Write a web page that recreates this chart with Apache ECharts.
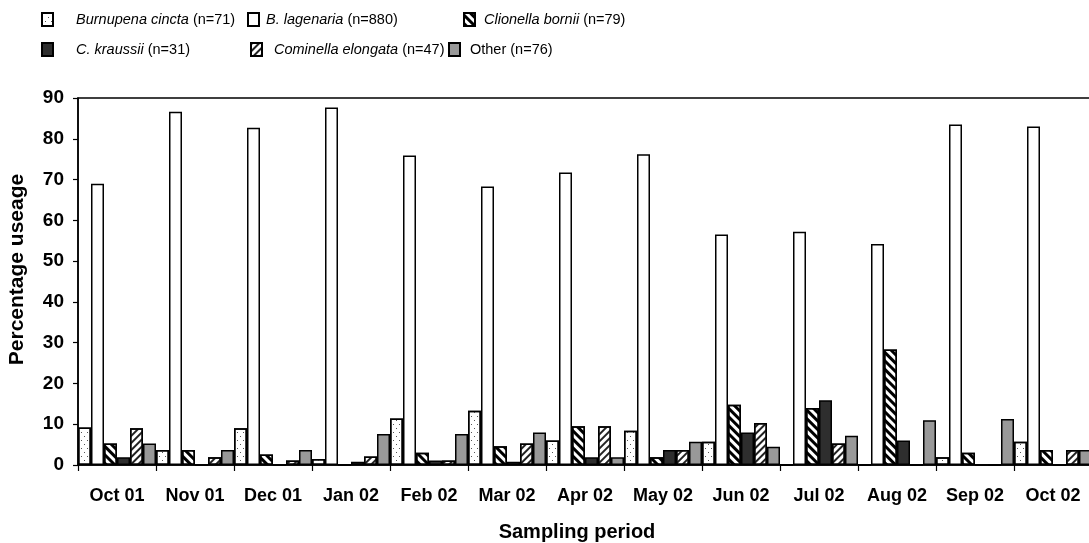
<!DOCTYPE html>
<html>
<head>
<meta charset="utf-8">
<script src="https://cdn.jsdelivr.net/npm/echarts@6/dist/echarts.min.js"></script>
<style>
html,body{margin:0;padding:0;background:#fff;}
#chart{width:1089px;height:543px;}
</style>
</head>
<body>
<div id="chart"></div>
<script>
var categories = ['Oct 01','Nov 01','Dec 01','Jan 02','Feb 02','Mar 02','Apr 02','May 02','Jun 02','Jul 02','Aug 02','Sep 02','Oct 02'];
var yTicks = [0,10,20,30,40,50,60,70,80,90];
var burnupena = [9.2, 3.7, 9.0, 1.5, 11.4, 13.3, 6.0, 8.4, 5.7, 0, 0, 1.9, 5.7];
var lagenaria = [69.0, 86.6, 82.7, 87.7, 75.9, 68.3, 71.7, 76.2, 56.5, 57.2, 54.2, 83.5, 83.0];
var clionella = [5.3, 3.7, 2.6, 0, 3.0, 4.6, 9.5, 1.9, 14.8, 14.0, 28.3, 3.0, 3.7];
var kraussii = [1.9, 0, 0, 0.8, 1.1, 0.8, 1.9, 3.7, 8.0, 15.9, 6.0, 0, 0];
var cominella = [9.0, 1.9, 1.1, 2.1, 1.1, 5.3, 9.5, 3.7, 10.3, 5.3, 0, 0, 3.7];
var other = [5.3, 3.7, 3.7, 7.6, 7.6, 8.0, 1.9, 5.7, 4.5, 7.2, 11.0, 11.3, 3.7];

var names = ['Burnupena cincta','B. lagenaria','Clionella bornii','C. kraussii','Cominella elongata','Other'];
var counts = ['(n=71)','(n=880)','(n=79)','(n=31)','(n=47)','(n=76)'];
var values = [burnupena, lagenaria, clionella, kraussii, cominella, other];

var FONT = "'Liberation Sans', Arial, sans-serif";
var styles = [
  {color:'#fff', decal:{symbol:'rect', symbolSize:1, color:'#555', dashArrayX:[[1,5],[0,3,1,2]], dashArrayY:[1,3], rotation:0}},
  {color:'#fff'},
  {color:'#fff', decal:{symbol:'rect', symbolSize:1, color:'#000', dashArrayX:[[1,0]], dashArrayY:[2.4,2.2], rotation:Math.PI/4}},
  {color:'#2e2e2e'},
  {color:'#fff', decal:{symbol:'rect', symbolSize:1, color:'#222', dashArrayX:[[1,0]], dashArrayY:[1.6,2.6], rotation:-Math.PI/4}},
  {color:'#999'}
];

var series = names.map(function(n, i){
  var st = styles[i];
  var itemStyle = {color: st.color, borderColor:'#000', borderWidth:1.5};
  if (st.decal) itemStyle.decal = st.decal;
  return {
    name: n, type:'bar', data: values[i],
    barGap: '0%', barCategoryGap: '0%',
    itemStyle: itemStyle,
    emphasis: {disabled: true},
    animation: false
  };
});

var LFS = 14.5;
var legendPos = [
  {left:41, top:12, pad:18},
  {left:247, top:12, pad:2},
  {left:463, top:12, pad:4},
  {left:41, top:42, pad:18},
  {left:250, top:42, pad:7},
  {left:448, top:42, pad:5}
];
var legends = names.map(function(n, i){
  var p = legendPos[i];
  var italic = (i !== 5);
  return {
    data:[n], left:p.left, top:p.top, padding:0, itemWidth:11, itemHeight:13, icon:'rect',
    selectedMode:false,
    formatter: function(name){
      return italic ? '{sp|}{it|' + name + '} {nm|' + counts[i] + '}' : '{sp|}{nm|' + name + ' ' + counts[i] + '}';
    },
    textStyle:{
      fontFamily:FONT, fontSize:LFS, color:'#000',
      rich:{
        sp:{width:p.pad},
        it:{fontStyle:'italic', fontFamily:FONT, fontSize:LFS, color:'#000'},
        nm:{fontFamily:FONT, fontSize:LFS, color:'#000'}
      }
    }
  };
});

var chart = echarts.init(document.getElementById('chart'), null, {renderer:'canvas'});
chart.setOption({
  animation:false,
  legend: legends,
  grid:{left:78, top:98, width:1014, height:367, outerBoundsMode:'none', containLabel:false,
        show:true, borderColor:'#000', borderWidth:1.5, backgroundColor:'transparent'},
  xAxis:{
    type:'category', data:categories,
    axisLine:{lineStyle:{color:'#000', width:1.5}},
    axisTick:{show:true, length:6, lineStyle:{color:'#000', width:1.2}},
    axisLabel:{interval:0, fontFamily:FONT, fontWeight:'bold', fontSize:18, color:'#000', margin:22},
    name:'Sampling period', nameLocation:'middle', nameGap:57,
    nameTextStyle:{fontFamily:FONT, fontWeight:'bold', fontSize:20, color:'#000', padding:[0,16,0,0]}
  },
  yAxis:{
    type:'value', min:yTicks[0], max:yTicks[yTicks.length-1], interval:10,
    axisLine:{show:true, lineStyle:{color:'#000', width:1.5}},
    axisTick:{show:true, length:5, lineStyle:{color:'#000', width:1.2}},
    splitLine:{show:false},
    axisLabel:{fontFamily:FONT, fontWeight:'bold', fontSize:19, color:'#000', margin:14},
    name:'Percentage useage', nameLocation:'middle', nameGap:50,
    nameTextStyle:{fontFamily:FONT, fontWeight:'bold', fontSize:21, color:'#000', padding:[0,0,0,24]}
  },
  series: series
});
</script>
</body>
</html>
